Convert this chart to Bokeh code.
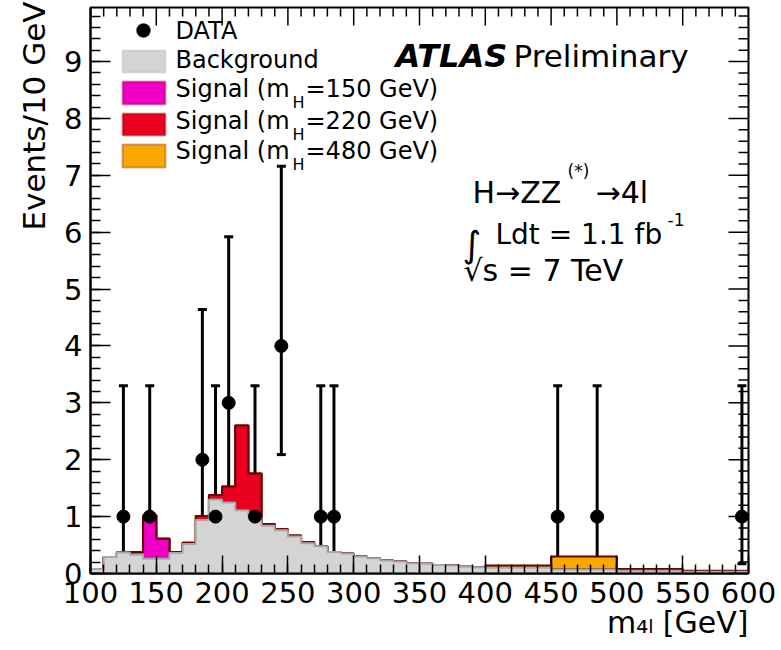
from bokeh.plotting import figure
from bokeh.models import (Range1d, SingleIntervalTicker, ColumnDataSource,
                          Whisker, TeeHead, Label, BoxAnnotation, Title)
from bokeh.embed import file_html
from bokeh.resources import INLINE
import math

# ---------------- data ----------------
bin_edges = [100, 110, 120, 130, 140, 150, 160, 170, 180, 190, 200, 210, 220, 230, 240,
             250, 260, 270, 280, 290, 300, 310, 320, 330, 340, 350, 360, 370, 380, 390,
             400, 450, 500, 550, 600]
background = [0.08, 0.29, 0.37, 0.33, 0.26, 0.26, 0.36, 0.52, 0.94, 1.30,
              1.25, 1.11, 0.99, 0.84, 0.76, 0.65, 0.53, 0.48, 0.38, 0.35,
              0.30, 0.27, 0.23, 0.21, 0.18, 0.17, 0.15, 0.14, 0.12, 0.11,
              0.10, 0.07, 0.05, 0.03]
signal_150 = [0, 0, 0, 0.05, 0.76, 0.35, 0.02, 0, 0, 0,
              0, 0, 0, 0, 0, 0, 0, 0, 0, 0,
              0, 0, 0, 0, 0, 0, 0, 0, 0, 0,
              0, 0, 0, 0]
signal_220 = [0, 0, 0, 0, 0, 0, 0, 0.02, 0.07, 0.08,
              0.28, 1.49, 0.77, 0.03, 0.02, 0.02, 0.02, 0, 0, 0,
              0, 0, 0, 0, 0, 0, 0, 0, 0, 0,
              0, 0, 0, 0]
signal_480 = [0, 0, 0, 0, 0, 0, 0, 0, 0, 0,
              0, 0, 0, 0, 0, 0, 0, 0, 0, 0,
              0, 0, 0, 0, 0, 0, 0, 0, 0, 0,
              0.04, 0.23, 0.03, 0.02]

data_mass = [125, 145, 185, 195, 205, 225, 245, 275, 285, 455, 485, 595]
data_events = [1, 1, 2, 1, 3, 1, 4, 1, 1, 1, 1, 1]
data_low = [0.17, 0.17, 0.71, 0.17, 1.37, 0.17, 2.09, 0.17, 0.17, 0.17, 0.17, 0.17]
data_high = [3.30, 3.30, 4.64, 3.30, 5.92, 3.30, 7.16, 3.30, 3.30, 3.30, 3.30, 3.30]

x_min, x_max = 100, 600
y_min, y_max = 0, 9.95
x_major_ticks = list(range(100, 601, 50))
x_minor_ticks = [t for t in range(100, 601, 10) if t % 50]
y_major_ticks = list(range(0, 10))
y_minor_ticks = [round(i * 0.2, 1) for i in range(0, 50) if i % 5]

# ---------------- style ----------------
FONT = "DejaVu Sans"
C_BG = "#d4d4d4"
C_BG_LINE = "#a8a8a8"
C_150 = "#f000c4"
C_220 = "#e8001e"
C_480 = "#faa800"
C_SIG_LINE = "#6e0000"

FRAME_L, FRAME_B = 90, 573  # canvas px of frame left/bottom
LABEL_DY = 8                # empirical baseline correction for Label


def sx(X):
    return X - FRAME_L


def sy(Y):
    return FRAME_B - Y


p = figure(width=781, height=650, x_range=Range1d(x_min, x_max), y_range=Range1d(y_min, y_max),
           output_backend="svg", toolbar_location=None,
           min_border_left=90, min_border_right=33, min_border_top=7, min_border_bottom=77)
p.grid.visible = False
p.outline_line_color = "black"
p.outline_line_width = 2
p.background_fill_color = "white"
p.border_fill_color = "white"


def step_polygon(edges, vals):
    xs = [edges[0]]
    ys = [0]
    for i, v in enumerate(vals):
        xs += [edges[i], edges[i + 1]]
        ys += [v, v]
    xs.append(edges[-1])
    ys.append(0)
    return xs, ys


cum_bg = list(background)
cum_150 = [a + b for a, b in zip(cum_bg, signal_150)]
cum_220 = [a + b for a, b in zip(cum_150, signal_220)]
cum_480 = [a + b for a, b in zip(cum_220, signal_480)]

for vals, fc, lc in [(cum_480, C_480, C_SIG_LINE), (cum_220, C_220, C_SIG_LINE),
                     (cum_150, C_150, C_SIG_LINE), (cum_bg, C_BG, C_BG_LINE)]:
    xs, ys = step_polygon(bin_edges, vals)
    p.patch(xs, ys, fill_color=fc, line_color=lc, line_width=2)

src = ColumnDataSource(dict(x=data_mass, y=data_events, lo=data_low, hi=data_high))
wh = Whisker(source=src, base="x", upper="hi", lower="lo", line_color="black", line_width=3,
             upper_head=TeeHead(size=9, line_width=3, line_color="black"),
             lower_head=TeeHead(size=9, line_width=3, line_color="black"))
p.add_layout(wh)
p.scatter("x", "y", source=src, size=13, color="black")

# ---------------- axes ----------------
xa = p.xaxis[0]
ya = p.yaxis[0]
xa.ticker = SingleIntervalTicker(interval=50, num_minor_ticks=5)
ya.ticker = SingleIntervalTicker(interval=1, num_minor_ticks=5)
for ax, major, minor, standoff in [(xa, 18, 9, 8), (ya, 20, 10, 8)]:
    ax.major_tick_in = major
    ax.major_tick_out = 0
    ax.minor_tick_in = minor
    ax.minor_tick_out = 0
    ax.axis_line_color = "black"
    ax.axis_line_width = 2
    ax.major_tick_line_width = 1.5
    ax.minor_tick_line_width = 1.5
    ax.major_tick_line_color = "black"
    ax.minor_tick_line_color = "black"
    ax.major_label_text_font = FONT
    ax.major_label_text_font_size = "29px"
    ax.major_label_text_color = "black"
    ax.major_label_standoff = standoff

# ticks on the top and right edges of the frame (inward)
p.ray(x=x_major_ticks, y=[y_max] * len(x_major_ticks), length=18, length_units="screen",
      angle=-math.pi / 2, line_color="black", line_width=1.5)
p.ray(x=x_minor_ticks, y=[y_max] * len(x_minor_ticks), length=9, length_units="screen",
      angle=-math.pi / 2, line_color="black", line_width=1.5)
p.ray(x=[x_max] * len(y_major_ticks), y=y_major_ticks, length=20, length_units="screen",
      angle=math.pi, line_color="black", line_width=1.5)
p.ray(x=[x_max] * len(y_minor_ticks), y=y_minor_ticks, length=10, length_units="screen",
      angle=math.pi, line_color="black", line_width=1.5)

# axis titles (right / top aligned, as in ROOT)
p.add_layout(Title(text="Events/10 GeV", align="right", text_font=FONT, text_font_size="31px",
                   text_font_style="normal", text_color="black", standoff=20, offset=-6),
             "left")
p.add_layout(Title(text="m\u2084\u2097 [GeV]", align="right", text_font=FONT,
                   text_font_size="30px", text_font_style="normal", text_color="black",
                   standoff=-6), "below")


def label(text, X, Y, size, align="left", style="normal"):
    p.add_layout(Label(x=sx(X), y=sy(Y - LABEL_DY), x_units="screen", y_units="screen",
                       text=text, text_font=FONT, text_font_size=f"{size}px",
                       text_font_style=style, text_color="black", text_align=align,
                       text_baseline="alphabetic"))


# legend
p.add_layout(BoxAnnotation(left=sx(136), right=sx(150), top=sy(23), bottom=sy(37),
                           left_units="screen", right_units="screen", top_units="screen",
                           bottom_units="screen", fill_color="black", fill_alpha=1,
                           line_color="black", border_radius=7))
label("DATA", 175, 38, 24)
legend_rows = [("Background", C_BG, C_BG_LINE, 50, 72, 67, None),
               ("Signal (m", C_150, C_SIG_LINE, 81, 104, 96, "=150 GeV)"),
               ("Signal (m", C_220, C_SIG_LINE, 113, 135, 128, "=220 GeV)"),
               ("Signal (m", C_480, C_SIG_LINE, 144, 167, 158, "=480 GeV)")]
for txt, fc, lc, top, bot, base, rest in legend_rows:
    p.add_layout(BoxAnnotation(left=sx(122), right=sx(165), top=sy(top), bottom=sy(bot),
                               left_units="screen", right_units="screen", top_units="screen",
                               bottom_units="screen", fill_color=fc, fill_alpha=1,
                               line_color=lc, line_width=2))
    label(txt, 175, base, 24)
    if rest:
        label("H", 292, base + 14, 16)
        label(rest, 305, base, 24)

# ATLAS texts
label("ATLAS", 395, 63, 32, style="bold italic")
label("Preliminary", 513, 63, 31)
label("H\u2192ZZ", 472, 200, 30)
label("(*)", 567, 178, 17)
label("\u21924l", 595, 200, 30)
label("\u222b", 462, 252, 36)
label("Ldt = 1.1 fb", 495, 242, 28)
label("-1", 667, 227, 17)
label("\u221as = 7 TeV", 463, 278, 30)

open("out.html", "w").write(file_html(p, INLINE))
